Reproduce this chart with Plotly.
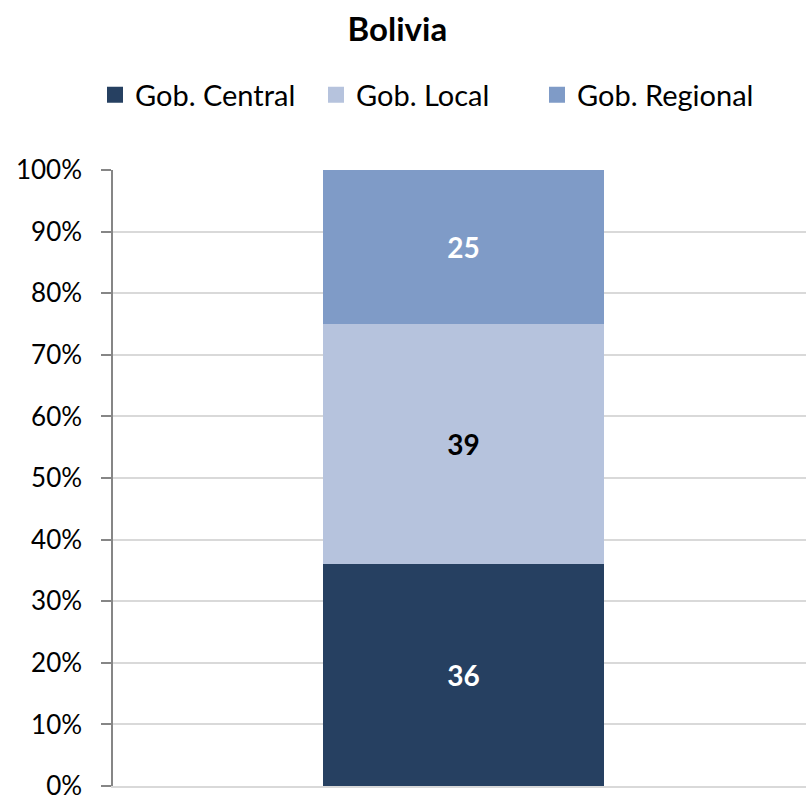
import plotly.graph_objects as go

categories = ["Bolivia"]
series_names = ["Gob. Central", "Gob. Local", "Gob. Regional"]
central = [36]
local = [39]
regional = [25]
colors = ["#264061", "#B6C3DD", "#7F9BC7"]
label_colors = ["white", "black", "white"]
tick_vals = [0, 10, 20, 30, 40, 50, 60, 70, 80, 90, 100]
tick_text = [f"{v}%" for v in tick_vals]

FONT = "Lato, 'Noto Sans', sans-serif"

fig = go.Figure()
for name, vals, col, lc in zip(series_names, [central, local, regional], colors, label_colors):
    fig.add_trace(go.Bar(
        x=categories, y=vals, name=name, showlegend=False,
        marker=dict(color=col, line=dict(width=0)),
        text=[str(v) for v in vals], textposition="inside",
        insidetextanchor="middle",
        textfont=dict(family=FONT, size=28, color=lc, weight="bold"),
    ))
# legend entries with larger square swatches
for name, col in zip(series_names, colors):
    fig.add_trace(go.Scatter(
        x=[None], y=[None], mode="markers", name=name,
        marker=dict(symbol="square", size=16, color=col),
    ))

fig.update_layout(
    width=806, height=796,
    barmode="stack", barnorm="percent", bargap=0.595,
    plot_bgcolor="white", paper_bgcolor="white",
    margin=dict(l=113, r=0, t=170, b=10, autoexpand=False),
    font=dict(family=FONT, size=28, color="black"),
    title=dict(text="<b>Bolivia</b>", x=0.493, xanchor="center", xref="container",
               y=1 - 29 / 796, yanchor="middle", yref="container",
               font=dict(family=FONT, size=33, color="black")),
    legend=dict(orientation="h", xref="container", yref="container",
                x=95 / 806, xanchor="left", y=1 - 95 / 796, yanchor="middle",
                font=dict(family=FONT, size=29, color="black"),
                itemsizing="trace", traceorder="normal", itemwidth=30,
                entrywidth=176, entrywidthmode="pixels"),
    showlegend=True,
    xaxis=dict(showticklabels=False, showgrid=False, zeroline=False,
               showline=True, linecolor="#D9D9D9", linewidth=2,
               range=[-0.5058, 0.4942], fixedrange=True),
    yaxis=dict(range=[0, 100], tickvals=tick_vals, ticktext=tick_text,
               showgrid=True, gridcolor="#D9D9D9", gridwidth=1.5,
               showline=True, linecolor="#868686", linewidth=1.5,
               ticks="outside", ticklen=10, tickcolor="#868686", tickwidth=1.5,
               zeroline=False, automargin=False, ticklabeloverflow="allow",
               ticklabelstandoff=14,
               tickfont=dict(family=FONT, size=26, color="black")),
)

fig.write_html("out.html", config={"displayModeBar": False},
               post_script="document.body.style.margin='0px';")
